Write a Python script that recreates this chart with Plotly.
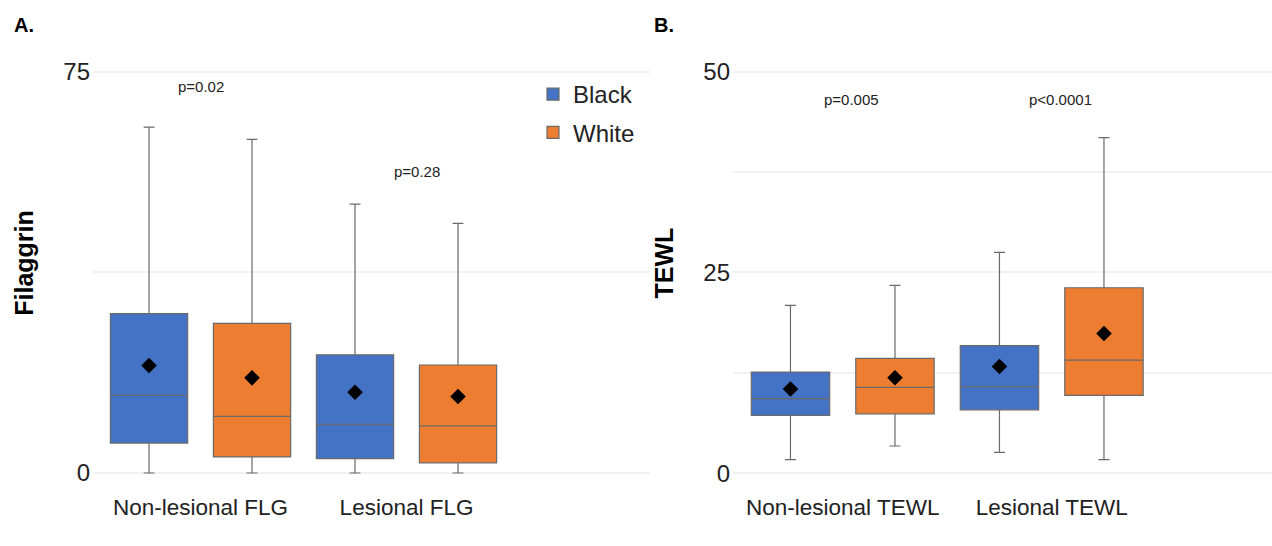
import plotly.graph_objects as go

# ---------------- data ----------------
groups = ["Black", "White"]
colors = ["#4472C4", "#ED7D31"]

cats_flg = ["Non-lesional FLG", "Lesional FLG"]
flg_black_low = [0.0, 0.0]
flg_black_q1 = [5.6, 2.7]
flg_black_med = [14.5, 9.1]
flg_black_q3 = [29.8, 22.1]
flg_black_up = [64.7, 50.3]
flg_black_mean = [20.1, 15.1]

flg_white_low = [0.0, 0.0]
flg_white_q1 = [3.0, 1.9]
flg_white_med = [10.6, 8.8]
flg_white_q3 = [28.0, 20.2]
flg_white_up = [62.4, 46.7]
flg_white_mean = [17.8, 14.3]

cats_tewl = ["Non-lesional TEWL", "Lesional TEWL"]
tewl_black_low = [1.7, 2.6]
tewl_black_q1 = [7.2, 7.9]
tewl_black_med = [9.3, 10.8]
tewl_black_q3 = [12.6, 15.9]
tewl_black_up = [20.9, 27.5]
tewl_black_mean = [10.5, 13.3]

tewl_white_low = [3.4, 1.7]
tewl_white_q1 = [7.4, 9.7]
tewl_white_med = [10.7, 14.1]
tewl_white_q3 = [14.3, 23.1]
tewl_white_up = [23.4, 41.8]
tewl_white_mean = [11.9, 17.4]

flg_pvals = ["p=0.02", "p=0.28"]
flg_p_y = [72.2, 56.3]
tewl_pvals = ["p=0.005", "p<0.0001"]
tewl_p_y = [46.6, 46.6]

# ---------------- figure ----------------
FONT = "Liberation Sans, Arial, sans-serif"
offsets = [-0.25, 0.25]
BOXW = 0.375
fig = go.Figure()

panels = [
    ("x", "y", cats_flg,
     [(flg_black_low, flg_black_q1, flg_black_med, flg_black_q3, flg_black_up, flg_black_mean),
      (flg_white_low, flg_white_q1, flg_white_med, flg_white_q3, flg_white_up, flg_white_mean)],
     True),
    ("x2", "y2", cats_tewl,
     [(tewl_black_low, tewl_black_q1, tewl_black_med, tewl_black_q3, tewl_black_up, tewl_black_mean),
      (tewl_white_low, tewl_white_q1, tewl_white_med, tewl_white_q3, tewl_white_up, tewl_white_mean)],
     False),
]

for xa, ya, cats, series, showleg in panels:
    for gi, (g, col, st) in enumerate(zip(groups, colors, series)):
        low, q1, med, q3, up, mean = st
        pos = [i + offsets[gi] for i in range(len(cats))]
        fig.add_trace(go.Box(
            x=pos, lowerfence=low, q1=q1, median=med, q3=q3, upperfence=up,
            width=BOXW, whiskerwidth=0.14,
            fillcolor=col, line=dict(color="#6a6a6a", width=1.2),
            name=g, legendgroup=g, showlegend=showleg,
            boxpoints=False, hoverinfo="skip",
            xaxis=xa, yaxis=ya,
        ))
        fig.add_trace(go.Scatter(
            x=pos, y=mean, mode="markers",
            marker=dict(symbol="diamond", size=12, color="black"),
            showlegend=False, hoverinfo="skip", xaxis=xa, yaxis=ya,
        ))

# p-value annotations
for i, (t, yv) in enumerate(zip(flg_pvals, flg_p_y)):
    fig.add_annotation(x=i + 0.05 * i, y=yv, xref="x", yref="y", text=t, showarrow=False,
                       font=dict(family=FONT, size=15, color="#222"))
for i, (t, yv) in enumerate(zip(tewl_pvals, tewl_p_y)):
    fig.add_annotation(x=i + 0.04, y=yv, xref="x2", yref="y2", text=t, showarrow=False,
                       font=dict(family=FONT, size=15, color="#222"))

# panel labels
fig.add_annotation(x=12 / 1272, y=1 - 25 / 546, xref="paper", yref="paper", text="<b>A.</b>",
                   showarrow=False, xanchor="left", yanchor="middle",
                   font=dict(family=FONT, size=20, color="black"))
fig.add_annotation(x=652 / 1272, y=1 - 25 / 546, xref="paper", yref="paper", text="<b>B.</b>",
                   showarrow=False, xanchor="left", yanchor="middle",
                   font=dict(family=FONT, size=20, color="black"))

grid = "#f1f1f1"
ydom = [1 - 476 / 546, 1 - 50 / 546]
xtickfont = dict(family=FONT, size=22.5, color="#222")
ytickfont = dict(family=FONT, size=24, color="#222")

fig.update_layout(
    width=1272, height=546,
    margin=dict(l=0, r=0, t=0, b=0),
    paper_bgcolor="white", plot_bgcolor="white",
    font=dict(family=FONT),
    showlegend=True,
    legend=dict(x=533 / 1272, y=1 - 72 / 546, xanchor="left", yanchor="top",
                font=dict(family=FONT, size=24, color="#222"),
                bgcolor="rgba(0,0,0,0)", tracegroupgap=4),
    xaxis=dict(domain=[93 / 1272, 650 / 1272], range=[-0.522, 2.182], automargin=False,
               tickvals=[0, 1], ticktext=cats_flg, showgrid=False, zeroline=False,
               showline=False, ticks="", tickfont=xtickfont, anchor="y",
               ticklabelstandoff=15),
    yaxis=dict(domain=ydom, range=[-0.56, 79.11], tickvals=[0, 75], automargin=False,
               showgrid=True, gridcolor=grid, gridwidth=1.5, zeroline=False,
               minor=dict(tickvals=[37.5], showgrid=True, gridcolor=grid, gridwidth=1.5),
               ticks="", tickfont=ytickfont, anchor="x", ticklabelstandoff=2,
               title=dict(text="<b>Filaggrin</b>", font=dict(family=FONT, size=25, color="black"),
                          standoff=22)),
    xaxis2=dict(domain=[733 / 1272, 1.0], range=[-0.525, 2.054], automargin=False,
                tickvals=[0, 1], ticktext=cats_tewl, showgrid=False, zeroline=False,
                showline=False, ticks="", tickfont=xtickfont, anchor="y2",
                ticklabelstandoff=15),
    yaxis2=dict(domain=ydom, range=[-0.336, 52.70], tickvals=[0, 25, 50], automargin=False,
                showgrid=True, gridcolor=grid, gridwidth=1.5, zeroline=False,
                minor=dict(tickvals=[12.5, 37.5], showgrid=True, gridcolor=grid, gridwidth=1.5),
                ticks="", tickfont=ytickfont, anchor="x2", ticklabelstandoff=2,
                title=dict(text="<b>TEWL</b>", font=dict(family=FONT, size=25, color="black"),
                           standoff=22)),
)

fig.write_html("out.html", config={"displayModeBar": False},
               post_script="document.body.style.margin='0';")
